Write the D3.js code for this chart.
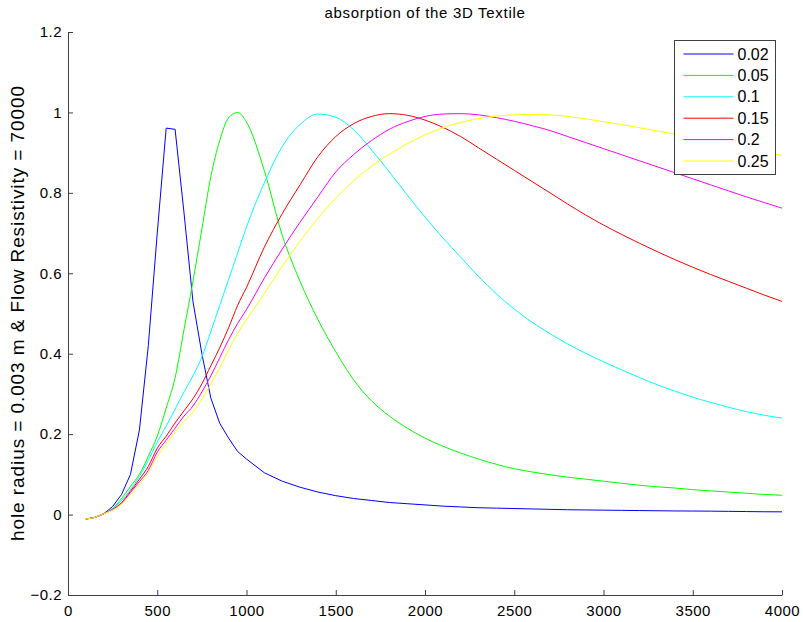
<!DOCTYPE html>
<html>
<head>
<meta charset="utf-8">
<script src="https://cdn.jsdelivr.net/npm/d3@7"></script>
<style>
  body { margin: 0; background: #fff; }
  text { font-family: "Liberation Sans", Arial, sans-serif; fill: #000; }
  .axis path, .axis line { stroke: #404040; }
</style>
</head>
<body>
<svg id="chart"></svg>
<script>
// frequency samples (Hz)
const freq = [100, 150, 200, 250, 300, 350, 400, 450, 500, 550, 600, 650, 700, 750, 800, 850, 900, 950, 1000,
  1100, 1200, 1300, 1400, 1500, 1600, 1700, 1800, 1900, 2000, 2100, 2200, 2300, 2400, 2500,
  2600, 2700, 2800, 2900, 3000, 3100, 3200, 3300, 3400, 3500, 3600, 3700, 3800, 3900, 4000];

const seriesNames = ['0.02', '0.05', '0.1', '0.15', '0.2', '0.25'];
const seriesColors = ['#0000ff', '#00ff00', '#00ffff', '#ff0000', '#ff00ff', '#ffff00'];

const a002 = [-0.011, -0.007, 0.002, 0.02, 0.05, 0.10, 0.21, 0.42, 0.70, 0.961, 0.958, 0.75, 0.53, 0.40, 0.29, 0.227, 0.19, 0.157, 0.138,
  0.104, 0.083, 0.068, 0.056, 0.047, 0.040, 0.035, 0.030, 0.027, 0.024, 0.021, 0.019, 0.017, 0.016, 0.015,
  0.014, 0.013, 0.012, 0.0115, 0.011, 0.0105, 0.010, 0.0095, 0.009, 0.0088, 0.0085, 0.008, 0.0075, 0.007, 0.0068];
const a005 = [-0.011, -0.007, 0.002, 0.015, 0.04, 0.07, 0.10, 0.145, 0.195, 0.265, 0.34, 0.46, 0.58, 0.71, 0.84, 0.93, 0.987, 1.0, 0.976,
  0.855, 0.695, 0.58, 0.485, 0.405, 0.335, 0.283, 0.245, 0.215, 0.19, 0.17, 0.153, 0.138, 0.125, 0.114,
  0.106, 0.099, 0.093, 0.088, 0.083, 0.078, 0.073, 0.069, 0.066, 0.062, 0.059, 0.056, 0.053, 0.05, 0.048];
const a01 = [-0.011, -0.007, 0.002, 0.015, 0.035, 0.062, 0.095, 0.135, 0.18, 0.22, 0.262, 0.305, 0.345, 0.392, 0.455, 0.52, 0.585, 0.65, 0.715,
  0.825, 0.915, 0.97, 0.996, 0.988, 0.957, 0.907, 0.852, 0.795, 0.74, 0.688, 0.64, 0.592, 0.549, 0.511,
  0.478, 0.45, 0.424, 0.401, 0.38, 0.36, 0.341, 0.323, 0.307, 0.292, 0.279, 0.267, 0.256, 0.247, 0.24];
const a015 = [-0.011, -0.007, 0.002, 0.013, 0.03, 0.058, 0.088, 0.12, 0.165, 0.195, 0.228, 0.258, 0.288, 0.325, 0.37, 0.415, 0.465, 0.52, 0.565,
  0.665, 0.748, 0.82, 0.89, 0.94, 0.972, 0.99, 0.997, 0.993, 0.981, 0.963, 0.94, 0.912, 0.884, 0.856,
  0.828, 0.80, 0.772, 0.745, 0.72, 0.697, 0.675, 0.654, 0.634, 0.615, 0.597, 0.58, 0.563, 0.546, 0.53];
const a02 = [-0.011, -0.007, 0.002, 0.012, 0.028, 0.055, 0.082, 0.11, 0.155, 0.185, 0.215, 0.245, 0.27, 0.305, 0.345, 0.39, 0.435, 0.475, 0.51,
  0.588, 0.66, 0.727, 0.79, 0.852, 0.895, 0.93, 0.958, 0.977, 0.99, 0.996, 0.997, 0.994, 0.987, 0.978,
  0.967, 0.955, 0.94, 0.925, 0.91, 0.895, 0.88, 0.865, 0.85, 0.835, 0.82, 0.805, 0.79, 0.776, 0.762];
const a025 = [-0.011, -0.007, 0.002, 0.011, 0.026, 0.05, 0.076, 0.104, 0.145, 0.175, 0.205, 0.232, 0.255, 0.287, 0.325, 0.365, 0.41, 0.45, 0.485,
  0.55, 0.617, 0.68, 0.737, 0.787, 0.83, 0.866, 0.896, 0.922, 0.944, 0.962, 0.975, 0.985, 0.991, 0.994,
  0.995, 0.994, 0.99, 0.984, 0.977, 0.97, 0.962, 0.954, 0.946, 0.937, 0.928, 0.919, 0.91, 0.902, 0.893];

const xTicks = [0, 500, 1000, 1500, 2000, 2500, 3000, 3500, 4000];
const yTicks = [-0.2, 0, 0.2, 0.4, 0.6, 0.8, 1, 1.2];

const config = {
  width: 803,
  height: 622,
  margin: {top: 32, right: 21, bottom: 27, left: 68}
};

const series = [a002, a005, a01, a015, a02, a025].map((vals, i) => ({
  name: seriesNames[i],
  color: seriesColors[i],
  // the narrow blue peak is sampled coarsely, so it keeps straight segments
  curve: i === 0 ? d3.curveLinear : d3.curveMonotoneX,
  values: vals.map((v, j) => ({x: freq[j], y: v}))
}));

const svg = d3.select('#chart')
    .attr('width', config.width)
    .attr('height', config.height);

const innerW = config.width - config.margin.left - config.margin.right;
const innerH = config.height - config.margin.top - config.margin.bottom;

const chart = svg.append('g')
    .attr('transform', `translate(${config.margin.left},${config.margin.top})`);

const xScale = d3.scaleLinear().domain([0, 4000]).range([0, innerW]);
const yScale = d3.scaleLinear().domain([-0.2, 1.2]).range([innerH, 0]);

// axes: ticks point inwards, like MATLAB
const xAxis = d3.axisBottom(xScale)
    .tickValues(xTicks)
    .tickFormat(d3.format('d'))
    .tickSizeInner(-5)
    .tickSizeOuter(0)
    .tickPadding(10);

const yAxis = d3.axisLeft(yScale)
    .tickValues(yTicks)
    .tickFormat(d => d3.format('')(+d.toFixed(1)))
    .tickSizeInner(-5)
    .tickSizeOuter(0)
    .tickPadding(6);

chart.append('g')
    .attr('class', 'axis x-axis')
    .attr('transform', `translate(0,${innerH})`)
    .call(xAxis)
    .call(g => g.selectAll('text').attr('font-size', 15).attr('letter-spacing', 0.5).attr('dy', '0.71em'));

chart.append('g')
    .attr('class', 'axis y-axis')
    .call(yAxis)
    .call(g => g.selectAll('text').attr('font-size', 15).attr('letter-spacing', 0.5));

svg.selectAll('.axis').attr('font-family', null);

// curves
chart.selectAll('.curve')
    .data(series)
    .join('path')
    .attr('class', 'curve')
    .attr('fill', 'none')
    .attr('stroke', d => d.color)
    .attr('stroke-width', 1)
    .attr('d', d => d3.line().curve(d.curve).x(p => xScale(p.x)).y(p => yScale(p.y))(d.values));

// title
svg.append('text')
    .attr('x', config.margin.left + innerW / 2)
    .attr('y', 18)
    .attr('text-anchor', 'middle')
    .attr('font-size', 15)
    .attr('letter-spacing', 0.7)
    .text('absorption of the 3D Textile');

// y-axis label
svg.append('text')
    .attr('transform', 'rotate(-90)')
    .attr('x', -(config.margin.top + innerH / 2))
    .attr('y', 24)
    .attr('text-anchor', 'middle')
    .attr('font-size', 19)
    .attr('textLength', 455)
    .attr('lengthAdjust', 'spacing')
    .text('hole radius = 0.003 m & Flow Resistivity = 70000');

// legend
const legend = svg.append('g')
    .attr('transform', 'translate(674.5,40.5)');

legend.append('rect')
    .attr('width', 101)
    .attr('height', 134)
    .attr('fill', '#fff')
    .attr('stroke', '#404040');

const rows = legend.selectAll('.row')
    .data(series)
    .join('g')
    .attr('class', 'row')
    .attr('transform', (d, i) => `translate(0,${13.5 + i * 21.4})`);

rows.append('line')
    .attr('x1', 9)
    .attr('x2', 59)
    .attr('stroke', d => d.color);

rows.append('text')
    .attr('x', 63)
    .attr('dy', '0.35em')
    .attr('font-size', 16)
    .text(d => d.name);
</script>
</body>
</html>
